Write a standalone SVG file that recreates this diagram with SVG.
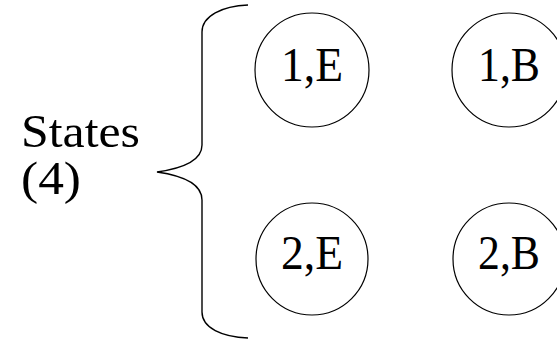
<svg xmlns="http://www.w3.org/2000/svg" width="557" height="341" viewBox="0 0 557 341">
  <style>
    .state { fill: #fff; stroke: #000; stroke-width: 1.2; }
    .lbl { font-family: "Liberation Serif", "Times New Roman", serif; font-size: 48px; fill: #000; text-anchor: middle; }
    .title { font-family: "Liberation Serif", "Times New Roman", serif; font-size: 47px; fill: #000; }
    .brace { fill: none; stroke: #000; stroke-width: 1.4; }
  </style>
  <rect width="557" height="341" fill="#fff"/>

  <g id="label">
    <text class="title" x="21" y="147" textLength="119" lengthAdjust="spacingAndGlyphs">States</text>
    <text class="title" x="21" y="194" textLength="60" lengthAdjust="spacingAndGlyphs">(4)</text>
  </g>

  <g id="connectors">
    <path class="brace" d="M248,5 C222,6 202,16 202,32 L202,145 C202,160 185,168 157,172 C185,176 202,184 202,200 L202,312 C202,328 222,337 248,338"/>
  </g>

  <g id="state-1E">
    <circle class="state" cx="312" cy="70" r="57"/>
    <text class="lbl" x="312" y="81" textLength="62" lengthAdjust="spacingAndGlyphs">1,E</text>
  </g>
  <g id="state-1B">
    <circle class="state" cx="509" cy="70" r="57"/>
    <text class="lbl" x="509" y="81" textLength="62" lengthAdjust="spacingAndGlyphs">1,B</text>
  </g>
  <g id="state-2E">
    <circle class="state" cx="312" cy="259" r="56"/>
    <text class="lbl" x="312" y="269" textLength="62" lengthAdjust="spacingAndGlyphs">2,E</text>
  </g>
  <g id="state-2B">
    <circle class="state" cx="509" cy="259" r="56"/>
    <text class="lbl" x="509" y="269" textLength="62" lengthAdjust="spacingAndGlyphs">2,B</text>
  </g>
</svg>
